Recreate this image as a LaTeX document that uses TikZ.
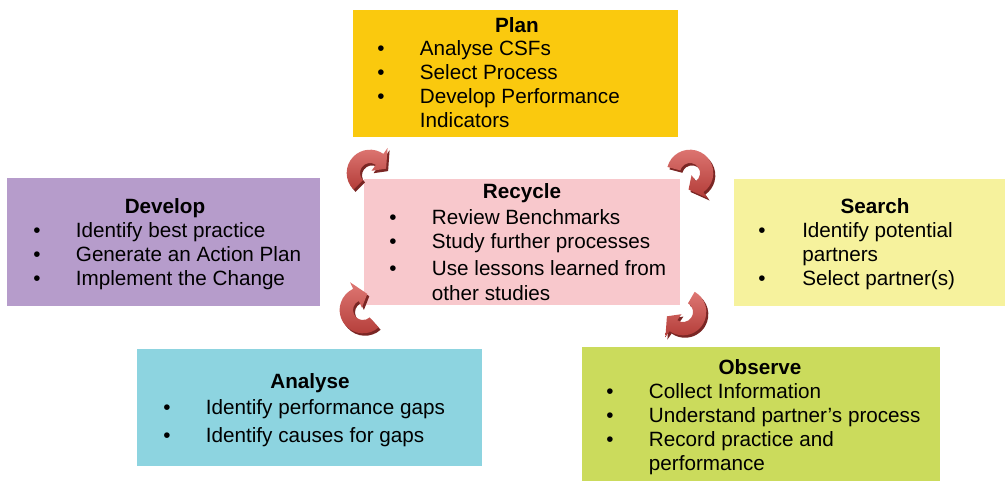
\documentclass[tikz,border=0pt]{standalone}
\usepackage{fontspec}
\setmainfont{Liberation Sans}
\usetikzlibrary{fit}

\definecolor{plancol}{HTML}{FAC90E}
\definecolor{developcol}{HTML}{B69CCB}
\definecolor{recyclecol}{HTML}{F8C8CC}
\definecolor{searchcol}{HTML}{F6F29D}
\definecolor{analysecol}{HTML}{8DD4E0}
\definecolor{observecol}{HTML}{CBDB5C}
\definecolor{arrowlight}{HTML}{DE7773}
\definecolor{arrowdark}{HTML}{B33C38}
\definecolor{arrowshade}{HTML}{7A2624}

% curved arrow, clockwise from #2 to #3 round the point #1
\newcommand{\arrowoutline}[2]{(#1:17.5pt) arc[start angle=#1, end angle={#2+40}, radius=17.5pt]
  -- ({#2+40}:23pt) -- (#2:12.5pt) -- ({#2+40}:2pt) -- ({#2+40}:7.5pt)
  arc[start angle={#2+40}, end angle=#1, radius=7.5pt] -- cycle}
\newcommand{\cyclearrow}[3]{%
  \begin{scope}[shift={(#1)}]
    \fill[arrowshade] [shift={(1.5pt,-1.8pt)}] \arrowoutline{#2}{#3};
    \shade[top color=arrowlight, bottom color=arrowdark] \arrowoutline{#2}{#3};
  \end{scope}}

\begin{document}
\begin{tikzpicture}[x=0.75pt,y=-0.75pt]
  \useasboundingbox (0,0) rectangle (1007,481);

  \tikzset{
    stagebox/.style={inner sep=0pt},
    stagetitle/.style={anchor=base, font=\bfseries\fontsize{15.5}{18}\selectfont},
    stagelist/.style={anchor=base west, inner sep=0pt, font=\fontsize{15.5}{18}\selectfont, align=left}
  }

  % boxes
  \node[stagebox, fit={(353,10) (678,137)}, fill=plancol] (plan) {};
  \node[stagebox, fit={(7,178) (320,306)}, fill=developcol] (develop) {};
  \node[stagebox, fit={(364,179) (680,305)}, fill=recyclecol] (recycle) {};
  \node[stagebox, fit={(734,179) (1005,306)}, fill=searchcol] (search) {};
  \node[stagebox, fit={(137,349) (482,466)}, fill=analysecol] (analyse) {};
  \node[stagebox, fit={(582,347) (940,481)}, fill=observecol] (observe) {};

  % titles
  \node[stagetitle] (plantitle) at (517,33) {Plan};
  \node[stagetitle] (developtitle) at (165,214) {Develop};
  \node[stagetitle] (recycletitle) at (522,199) {Recycle};
  \node[stagetitle] (searchtitle) at (875,214) {Search};
  \node[stagetitle] (analysetitle) at (310,388) {Analyse};
  \node[stagetitle] (observetitle) at (760,374) {Observe};

  % bullet lists
  \node[stagelist] (planlist) at (377,56) {\begin{tabular}[t]{@{}p{32pt}@{}l@{}}
    \textbullet & Analyse CSFs\\
    \textbullet & Select Process\\
    \textbullet & Develop Performance\\
                & Indicators
  \end{tabular}};
  \node[stagelist] (developlist) at (33,238) {\begin{tabular}[t]{@{}p{32pt}@{}l@{}}
    \textbullet & Identify best practice\\
    \textbullet & Generate an Action Plan\\
    \textbullet & Implement the Change
  \end{tabular}};
  \node[stagelist] (recyclelist) at (389,224) {\begin{tabular}[t]{@{}p{32pt}@{}l@{}}
    \textbullet & Review Benchmarks\\
    \textbullet & Study further processes\\[3pt]
    \textbullet & Use lessons learned from\\
                & other studies
  \end{tabular}};
  \node[stagelist] (searchlist) at (758,238) {\begin{tabular}[t]{@{}p{33pt}@{}l@{}}
    \textbullet & Identify potential\\
                & partners\\
    \textbullet & Select partner(s)
  \end{tabular}};
  \node[stagelist] (analyselist) at (163,414) {\begin{tabular}[t]{@{}p{32pt}@{}l@{}}
    \textbullet & Identify performance gaps\\[3pt]
    \textbullet & Identify causes for gaps
  \end{tabular}};
  \node[stagelist] (observelist) at (606,398) {\begin{tabular}[t]{@{}p{32pt}@{}l@{}}
    \textbullet & Collect Information\\
    \textbullet & Understand partner’s process\\
    \textbullet & Record practice and\\
                & performance
  \end{tabular}};

  % cycle arrows
  \cyclearrow{370,173}{225}{15}
  \cyclearrow{690,173}{165}{-95}
  \cyclearrow{363,310}{312}{75}
  \cyclearrow{683,312}{60}{-165}

\end{tikzpicture}
\end{document}
